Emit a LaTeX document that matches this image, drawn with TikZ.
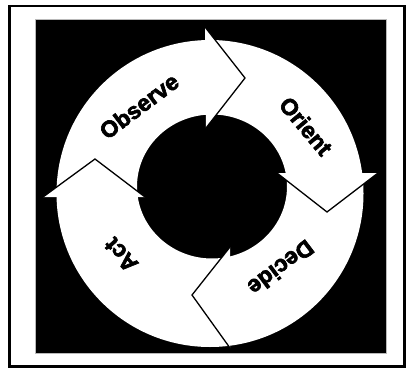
\documentclass[tikz,border=0pt]{standalone}
\usepackage{fontspec}
\newfontfamily\heavy{Liberation Sans}[UprightFont={* Bold}, FakeBold=2.8]
\begin{document}
\begin{tikzpicture}[x=1pt,y=-1pt,
  lbl/.style={font=\heavy\fontsize{23}{25}\selectfont, inner sep=0pt, text depth=0pt},
  headfill/.style={fill=white},
  headline/.style={draw=black, line width=1.3pt, line join=miter}]
\useasboundingbox (0,0) rectangle (406,369);
% outer frame
\draw[line width=2.5pt] (9.5,6) rectangle (404.5,366.5);
% black square
\fill[black, draw=gray!55, line width=0.8pt] (35,19) rectangle (386,353);
% white ring
\fill[white, even odd rule] (210,193.5) circle (153.5)
  (212,186.5) ellipse [x radius=75, y radius=72];
% arrow heads (top, right, bottom, left)
\coordinate (ho1) at (205,27);  \coordinate (ht1) at (245,78);  \coordinate (hi1) at (206,128);
\coordinate (ho2) at (378,173); \coordinate (ht2) at (327,212); \coordinate (hi2) at (277,173);
\coordinate (ho3) at (230,348); \coordinate (ht3) at (192,295); \coordinate (hi3) at (230,247);
\coordinate (ho4) at (43,197);  \coordinate (ht4) at (95,159);  \coordinate (hi4) at (145,197);
\foreach \i in {1,2,3,4}{
  \fill[headfill] (ho\i) -- (ht\i) -- (hi\i) -- cycle;
  \draw[headline] (ho\i) -- (ht\i) -- (hi\i);
}
% labels
\node[lbl, rotate=37]   (obs) at (139,106) {Observe};
\node[lbl, rotate=-50]  (ori) at (306,126) {Orient};
\node[lbl, rotate=-143] (dec) at (281,268) {Decide};
\node[lbl, rotate=132]  (act) at (121,255) {Act};
\end{tikzpicture}
\end{document}
